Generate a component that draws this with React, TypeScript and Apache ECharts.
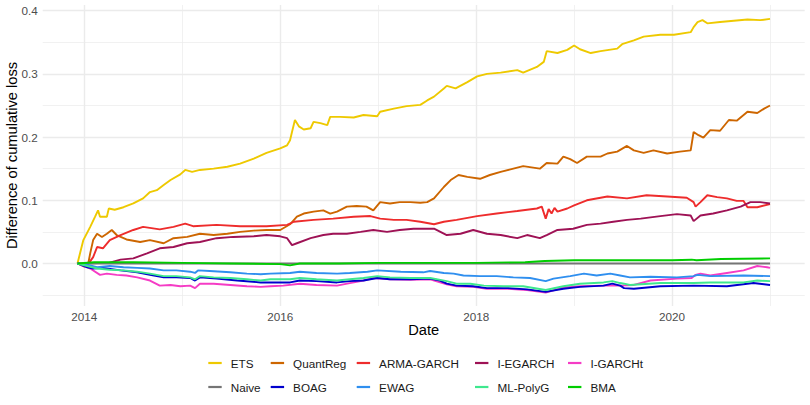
import React, { useEffect, useRef } from "react";
import * as echarts from "echarts";

const FONT = "'Liberation Sans', Arial, Helvetica, sans-serif";

// Series names (legend order, row by row)
const seriesNames = [
  "ETS", "QuantReg", "ARMA-GARCH", "I-EGARCH", "I-GARCHt",
  "Naive", "BOAG", "EWAG", "ML-PolyG", "BMA",
];

const seriesColors = [
  "#EEC900", "#CD6600", "#EE2C2C", "#9E1255", "#F53CC5",
  "#757575", "#0000CD", "#2F8FEF", "#3EE88E", "#00CD00",
];

// [decimal year, difference of cumulative loss]
const ets = [
  [2013.93, 0], [2013.99, 0.037], [2014.06, 0.058], [2014.11, 0.074], [2014.14, 0.084],
  [2014.16, 0.074], [2014.23, 0.074], [2014.25, 0.087], [2014.31, 0.085], [2014.4, 0.089],
  [2014.5, 0.095], [2014.6, 0.103], [2014.67, 0.113], [2014.74, 0.116], [2014.81, 0.124],
  [2014.88, 0.132], [2014.98, 0.141], [2015.03, 0.148], [2015.1, 0.145], [2015.18, 0.148],
  [2015.32, 0.15], [2015.46, 0.153], [2015.59, 0.158], [2015.73, 0.166], [2015.86, 0.175],
  [2016.0, 0.182], [2016.07, 0.187], [2016.1, 0.195], [2016.12, 0.208], [2016.15, 0.227],
  [2016.19, 0.217], [2016.24, 0.212], [2016.31, 0.214], [2016.34, 0.224], [2016.41, 0.222],
  [2016.48, 0.219], [2016.51, 0.232], [2016.61, 0.232], [2016.75, 0.231], [2016.85, 0.235],
  [2016.99, 0.233], [2017.02, 0.24], [2017.16, 0.245], [2017.29, 0.249], [2017.43, 0.251],
  [2017.5, 0.258], [2017.57, 0.264], [2017.67, 0.277], [2017.7, 0.281], [2017.79, 0.277],
  [2017.91, 0.287], [2018.01, 0.296], [2018.11, 0.3], [2018.25, 0.302], [2018.42, 0.306],
  [2018.48, 0.302], [2018.62, 0.311], [2018.69, 0.319], [2018.72, 0.336], [2018.83, 0.333],
  [2018.93, 0.338], [2019.0, 0.345], [2019.06, 0.339], [2019.17, 0.333], [2019.27, 0.336],
  [2019.44, 0.34], [2019.49, 0.347], [2019.61, 0.353], [2019.71, 0.359], [2019.88, 0.362],
  [2020.02, 0.362], [2020.19, 0.366], [2020.22, 0.374], [2020.26, 0.382], [2020.31, 0.385],
  [2020.36, 0.38], [2020.49, 0.382], [2020.63, 0.384], [2020.77, 0.386], [2020.9, 0.385],
  [2021.0, 0.387],
];

const quantReg = [
  [2013.93, 0], [2014.0, -0.002], [2014.04, 0.0], [2014.06, 0.016], [2014.09, 0.037],
  [2014.13, 0.047], [2014.18, 0.042], [2014.23, 0.047], [2014.28, 0.053], [2014.33, 0.045],
  [2014.43, 0.038], [2014.57, 0.034], [2014.67, 0.037], [2014.81, 0.032], [2014.91, 0.04],
  [2015.05, 0.042], [2015.18, 0.047], [2015.32, 0.045], [2015.46, 0.047], [2015.59, 0.05],
  [2015.73, 0.052], [2015.86, 0.053], [2016.0, 0.053], [2016.1, 0.062], [2016.17, 0.074],
  [2016.24, 0.079], [2016.34, 0.082], [2016.44, 0.084], [2016.51, 0.079], [2016.58, 0.082],
  [2016.68, 0.09], [2016.78, 0.091], [2016.88, 0.09], [2016.95, 0.084], [2017.02, 0.097],
  [2017.12, 0.095], [2017.22, 0.097], [2017.33, 0.097], [2017.43, 0.096], [2017.5, 0.097],
  [2017.57, 0.103], [2017.67, 0.121], [2017.74, 0.132], [2017.82, 0.14], [2017.91, 0.137],
  [2018.04, 0.134], [2018.14, 0.14], [2018.25, 0.145], [2018.35, 0.149], [2018.48, 0.154],
  [2018.65, 0.15], [2018.72, 0.159], [2018.83, 0.158], [2018.89, 0.169], [2018.96, 0.165],
  [2019.03, 0.159], [2019.13, 0.169], [2019.27, 0.169], [2019.34, 0.174], [2019.44, 0.177],
  [2019.54, 0.186], [2019.61, 0.179], [2019.71, 0.175], [2019.81, 0.179], [2019.95, 0.174],
  [2020.08, 0.177], [2020.19, 0.179], [2020.22, 0.208], [2020.27, 0.203], [2020.32, 0.199],
  [2020.39, 0.211], [2020.49, 0.21], [2020.58, 0.227], [2020.66, 0.226], [2020.77, 0.24],
  [2020.87, 0.238], [2020.94, 0.245], [2021.0, 0.25],
];

const armaGarch = [
  [2013.93, 0], [2014.0, -0.005], [2014.03, -0.003], [2014.09, 0.01], [2014.13, 0.026],
  [2014.19, 0.024], [2014.26, 0.037], [2014.37, 0.045], [2014.5, 0.053], [2014.6, 0.058],
  [2014.77, 0.054], [2014.91, 0.058], [2015.03, 0.063], [2015.11, 0.059], [2015.35, 0.061],
  [2015.59, 0.059], [2015.86, 0.059], [2016.07, 0.061], [2016.14, 0.066], [2016.34, 0.069],
  [2016.54, 0.071], [2016.75, 0.074], [2016.92, 0.075], [2017.02, 0.071], [2017.16, 0.069],
  [2017.29, 0.069], [2017.43, 0.066], [2017.57, 0.062], [2017.67, 0.066], [2017.8, 0.069],
  [2018.01, 0.075], [2018.21, 0.079], [2018.42, 0.083], [2018.62, 0.087], [2018.67, 0.09],
  [2018.71, 0.071], [2018.74, 0.086], [2018.77, 0.079], [2018.8, 0.088], [2018.83, 0.082],
  [2018.93, 0.087], [2019.0, 0.092], [2019.13, 0.1], [2019.34, 0.106], [2019.54, 0.103],
  [2019.74, 0.108], [2019.95, 0.106], [2020.15, 0.104], [2020.22, 0.097], [2020.24, 0.09],
  [2020.29, 0.097], [2020.36, 0.108], [2020.46, 0.105], [2020.56, 0.103], [2020.66, 0.099],
  [2020.73, 0.099], [2020.77, 0.089], [2020.87, 0.089], [2021.0, 0.094],
];

const iEgarch = [
  [2013.93, 0], [2014.25, 0.001], [2014.37, 0.006], [2014.5, 0.008], [2014.64, 0.016],
  [2014.77, 0.024], [2014.91, 0.026], [2015.05, 0.032], [2015.18, 0.034], [2015.35, 0.04],
  [2015.52, 0.042], [2015.73, 0.043], [2015.86, 0.045], [2016.0, 0.043], [2016.07, 0.04],
  [2016.12, 0.029], [2016.17, 0.032], [2016.31, 0.04], [2016.44, 0.045], [2016.54, 0.047],
  [2016.68, 0.047], [2016.82, 0.05], [2016.95, 0.053], [2017.09, 0.05], [2017.22, 0.053],
  [2017.36, 0.055], [2017.57, 0.055], [2017.7, 0.045], [2017.84, 0.047], [2017.97, 0.053],
  [2018.11, 0.047], [2018.25, 0.045], [2018.42, 0.04], [2018.52, 0.045], [2018.65, 0.04],
  [2018.72, 0.045], [2018.83, 0.053], [2018.99, 0.055], [2019.13, 0.061], [2019.27, 0.063],
  [2019.4, 0.066], [2019.54, 0.069], [2019.68, 0.071], [2019.88, 0.075], [2020.05, 0.078],
  [2020.19, 0.076], [2020.22, 0.067], [2020.29, 0.076], [2020.42, 0.079], [2020.56, 0.084],
  [2020.7, 0.09], [2020.8, 0.097], [2020.9, 0.097], [2021.0, 0.095],
];

const iGarchT = [
  [2013.93, 0], [2014.06, -0.008], [2014.16, -0.018], [2014.23, -0.016], [2014.33, -0.018],
  [2014.43, -0.019], [2014.54, -0.022], [2014.67, -0.027], [2014.77, -0.035], [2014.88, -0.034],
  [2014.98, -0.036], [2015.08, -0.035], [2015.13, -0.039], [2015.18, -0.032], [2015.32, -0.032],
  [2015.49, -0.034], [2015.66, -0.036], [2015.8, -0.037], [2015.9, -0.036], [2016.03, -0.035],
  [2016.2, -0.032], [2016.37, -0.034], [2016.58, -0.035], [2016.71, -0.031], [2016.85, -0.027],
  [2016.95, -0.023], [2017.12, -0.025], [2017.33, -0.026], [2017.53, -0.025], [2017.7, -0.033],
  [2017.8, -0.036], [2017.97, -0.037], [2018.11, -0.04], [2018.32, -0.04], [2018.52, -0.042],
  [2018.71, -0.046], [2018.89, -0.038], [2019.06, -0.036], [2019.3, -0.035], [2019.47, -0.035],
  [2019.61, -0.034], [2019.78, -0.027], [2020.05, -0.024], [2020.2, -0.023], [2020.24, -0.018],
  [2020.29, -0.016], [2020.39, -0.019], [2020.56, -0.015], [2020.73, -0.011], [2020.87, -0.004],
  [2020.97, -0.006], [2021.0, -0.007],
];

const naive = [
  [2013.93, 0], [2021.0, 0],
];

const boag = [
  [2013.93, 0], [2014.03, -0.006], [2014.09, -0.008], [2014.19, -0.007], [2014.37, -0.011],
  [2014.54, -0.014], [2014.67, -0.018], [2014.81, -0.022], [2014.94, -0.022], [2015.08, -0.023],
  [2015.13, -0.027], [2015.18, -0.022], [2015.35, -0.024], [2015.56, -0.027], [2015.8, -0.03],
  [2015.9, -0.03], [2016.1, -0.03], [2016.2, -0.027], [2016.37, -0.028], [2016.58, -0.03],
  [2016.71, -0.028], [2016.85, -0.027], [2016.99, -0.023], [2017.12, -0.025], [2017.33, -0.025],
  [2017.53, -0.024], [2017.63, -0.027], [2017.7, -0.032], [2017.8, -0.035], [2017.97, -0.036],
  [2018.11, -0.039], [2018.32, -0.039], [2018.52, -0.041], [2018.71, -0.045], [2018.89, -0.04],
  [2019.06, -0.037], [2019.3, -0.035], [2019.39, -0.032], [2019.47, -0.035], [2019.51, -0.039],
  [2019.61, -0.04], [2019.88, -0.036], [2020.22, -0.035], [2020.56, -0.036], [2020.83, -0.031],
  [2021.0, -0.034],
];

const ewag = [
  [2013.93, 0], [2014.06, -0.003], [2014.13, -0.006], [2014.26, -0.004], [2014.4, -0.006],
  [2014.54, -0.007], [2014.67, -0.008], [2014.81, -0.011], [2014.94, -0.011], [2015.08, -0.013],
  [2015.13, -0.015], [2015.16, -0.011], [2015.28, -0.012], [2015.49, -0.014], [2015.66, -0.016],
  [2015.8, -0.017], [2015.9, -0.016], [2016.1, -0.015], [2016.2, -0.013], [2016.37, -0.015],
  [2016.58, -0.016], [2016.71, -0.015], [2016.89, -0.013], [2016.99, -0.011], [2017.23, -0.013],
  [2017.46, -0.014], [2017.53, -0.012], [2017.67, -0.015], [2017.77, -0.016], [2017.87, -0.019],
  [2018.04, -0.02], [2018.21, -0.02], [2018.38, -0.022], [2018.55, -0.023], [2018.71, -0.028],
  [2018.79, -0.024], [2018.96, -0.02], [2019.1, -0.016], [2019.23, -0.019], [2019.37, -0.016],
  [2019.47, -0.019], [2019.57, -0.022], [2019.78, -0.021], [2020.05, -0.022], [2020.22, -0.02],
  [2020.26, -0.018], [2020.39, -0.02], [2020.73, -0.019], [2021.0, -0.02],
];

const mlPolyG = [
  [2013.93, 0], [2014.03, -0.004], [2014.13, -0.008], [2014.26, -0.01], [2014.4, -0.011],
  [2014.54, -0.013], [2014.67, -0.016], [2014.81, -0.02], [2014.94, -0.02], [2015.08, -0.022],
  [2015.13, -0.025], [2015.18, -0.02], [2015.32, -0.022], [2015.49, -0.023], [2015.66, -0.025],
  [2015.8, -0.027], [2015.9, -0.025], [2016.1, -0.025], [2016.2, -0.023], [2016.37, -0.025],
  [2016.58, -0.027], [2016.71, -0.025], [2016.85, -0.023], [2016.99, -0.02], [2017.12, -0.022],
  [2017.33, -0.023], [2017.53, -0.023], [2017.7, -0.028], [2017.8, -0.032], [2017.94, -0.032],
  [2018.08, -0.035], [2018.28, -0.036], [2018.48, -0.036], [2018.71, -0.042], [2018.89, -0.036],
  [2019.06, -0.032], [2019.3, -0.03], [2019.39, -0.028], [2019.47, -0.031], [2019.51, -0.032],
  [2019.57, -0.034], [2019.88, -0.031], [2020.22, -0.031], [2020.39, -0.03], [2020.73, -0.03],
  [2020.87, -0.027], [2021.0, -0.028],
];

const bma = [
  [2013.93, 0], [2014.1, 0.002], [2014.5, 0.002], [2015.0, 0.001], [2015.5, 0.0],
  [2016.0, -0.001], [2016.1, -0.003], [2016.2, 0.0], [2016.6, 0.0], [2017.0, 0.001],
  [2017.5, 0.001], [2018.0, 0.001], [2018.5, 0.002], [2018.7, 0.004], [2019.0, 0.005],
  [2019.5, 0.005], [2020.0, 0.005], [2020.2, 0.006], [2020.25, 0.005], [2020.5, 0.007],
  [2021.0, 0.008],
];

const seriesValues = [ets, quantReg, armaGarch, iEgarch, iGarchT, naive, boag, ewag, mlPolyG, bma];

// Axis ticks
const yMajorTicks = [0, 0.1, 0.2, 0.3, 0.4];
const yMinorTicks = [-0.05, 0.05, 0.15, 0.25, 0.35];
const xMajorTicks = [2014, 2016, 2018, 2020];
const xMinorTicks = [2015, 2017, 2019, 2021];

const yAxisTitle = "Difference of cumulative loss";
const xAxisTitle = "Date";

export default function App() {
  const ref = useRef<HTMLDivElement>(null);

  useEffect(() => {
    if (!ref.current) return;
    const chart = echarts.init(ref.current, null, { renderer: "svg" });

    const gridColor = "#EBEBEB";
    const gridLines = [
      ...yMajorTicks.map((v) => ({ yAxis: v, lineStyle: { width: 1.4, color: gridColor, type: "solid" } })),
      ...yMinorTicks.map((v) => ({ yAxis: v, lineStyle: { width: 0.7, color: gridColor, type: "solid" } })),
      ...xMajorTicks.map((v) => ({ xAxis: v, lineStyle: { width: 1.4, color: gridColor, type: "solid" } })),
      ...xMinorTicks.map((v) => ({ xAxis: v, lineStyle: { width: 0.7, color: gridColor, type: "solid" } })),
    ];

    const colX = [208.3, 270.7, 356.7, 475, 568];
    const rowY = [363, 387];

    const legends = seriesNames.map((name, i) => ({
      data: [name],
      left: colX[i % 5],
      top: rowY[Math.floor(i / 5)] - 7,
      padding: 0,
      itemGap: 0,
      itemWidth: 13.4,
      itemHeight: 2.2,
      icon: "rect",
      selectedMode: false,
      textStyle: {
        fontFamily: FONT,
        fontSize: 11.7,
        color: "#1A1A1A",
        lineHeight: 14,
        padding: [0, 0, 0, 4],
      },
    }));

    const series: any[] = [
      {
        type: "line",
        name: "_grid",
        data: naive,
        showSymbol: false,
        silent: true,
        z: 1,
        lineStyle: { opacity: 0, width: 0 },
        markLine: {
          silent: true,
          z: 1,
          symbol: ["none", "none"],
          label: { show: false },
          emphasis: { disabled: true },
          data: gridLines,
        },
      },
      ...seriesNames.map((name, i) => ({
        type: "line",
        name,
        data: seriesValues[i],
        color: seriesColors[i],
        showSymbol: false,
        symbol: "none",
        z: 2,
        lineStyle: { width: 1.9, color: seriesColors[i] },
        emphasis: { disabled: true },
      })),
    ];

    chart.setOption({
      animation: false,
      backgroundColor: "#FFFFFF",
      textStyle: { fontFamily: FONT },
      grid: { left: 42.7, right: 5.3, top: 5, bottom: 99, containLabel: false },
      legend: legends,
      xAxis: {
        type: "value",
        min: 2013.575,
        max: 2021.354,
        axisLine: { show: false },
        axisTick: { show: false },
        splitLine: { show: false },
        axisLabel: {
          customValues: xMajorTicks,
          formatter: (v: number) => String(Math.round(v)),
          color: "#4D4D4D",
          fontSize: 11.7,
          fontFamily: FONT,
          margin: 4,
        },
      },
      yAxis: {
        type: "value",
        min: -0.0673,
        max: 0.409,
        axisLine: { show: false },
        axisTick: { show: false },
        splitLine: { show: false },
        axisLabel: {
          customValues: yMajorTicks,
          formatter: (v: number) => v.toFixed(1),
          color: "#4D4D4D",
          fontSize: 11.7,
          fontFamily: FONT,
          margin: 5,
        },
      },
      graphic: [
        {
          type: "text",
          x: 11.5,
          y: 155.5,
          rotation: Math.PI / 2,
          silent: true,
          style: {
            text: yAxisTitle,
            fontFamily: FONT,
            fontSize: 14.67,
            fill: "#000000",
            align: "center",
            verticalAlign: "middle",
          },
        },
        {
          type: "text",
          x: 423.7,
          y: 330,
          silent: true,
          style: {
            text: xAxisTitle,
            fontFamily: FONT,
            fontSize: 14.67,
            fill: "#000000",
            align: "center",
            verticalAlign: "middle",
          },
        },
      ],
      series,
    });

    return () => chart.dispose();
  }, []);

  return (
    <div
      ref={ref}
      style={{ position: "fixed", left: 0, top: 0, width: 810, height: 405, background: "#fff" }}
    />
  );
}
